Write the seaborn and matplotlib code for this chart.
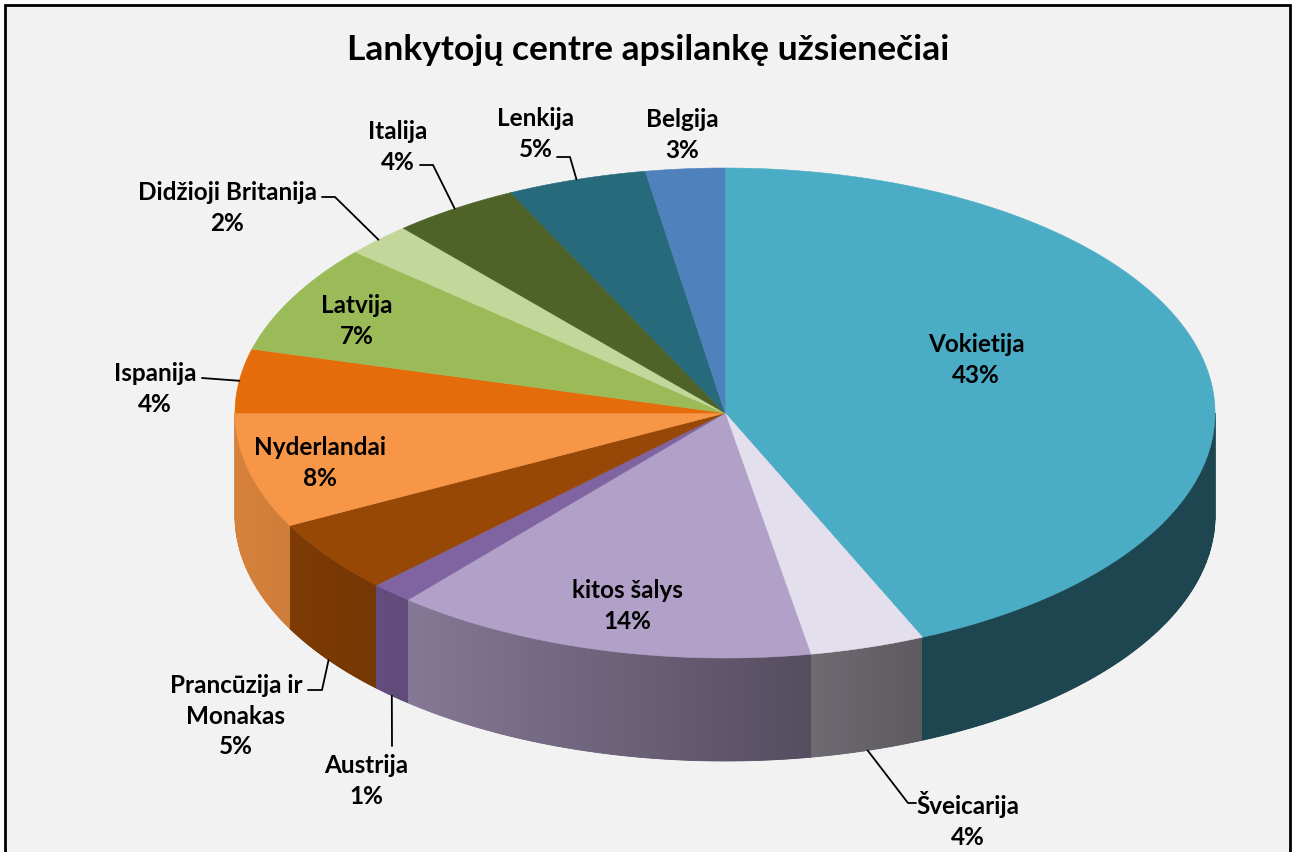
import numpy as np
import matplotlib
matplotlib.use('Agg')
import matplotlib.pyplot as plt
from matplotlib.patches import Polygon, Rectangle
from matplotlib.colors import to_rgb
import seaborn as sns

# ==========================================
# Data (clockwise from 12 o'clock), shares in %
# ==========================================
countries = ['Vokietija', 'Šveicarija', 'kitos šalys', 'Austrija',
             'Prancūzija ir\nMonakas', 'Nyderlandai', 'Ispanija', 'Latvija',
             'Didžioji Britanija', 'Italija', 'Lenkija', 'Belgija']
shares = [43.4, 3.8, 14.0, 1.4, 4.8, 7.6, 4.2, 7.2, 2.2, 4.2, 4.6, 2.6]
slice_colors = ['#4BACC6', '#E4DFEC', '#B1A0C7', '#8064A2', '#974706', '#F79646',
                '#E46C0A', '#9BBB59', '#C4D79B', '#4F6228', '#276A7C', '#4F81BD']
title = 'Lankytojų centre apsilankę užsienečiai'

# label layout (pixel coords, y down) and leader elbows
label_xy = [(976, 360), (968, 820), (627, 606), (366, 781), (236, 716), (320, 463),
            (155, 389), (357, 321), (227, 208), (398, 147), (536, 134), (682, 135)]
leaders = {1: [(908, 803), (916, 803)],
           3: [(392, 746)],
           4: [(322, 690), (308, 690)],
           6: [(202, 378)],
           8: [(335, 197), (322, 197)],
           9: [(433, 165), (420, 165)],
           10: [(570, 157), (557, 157)]}

sns.set_theme(style='white')
plt.rcParams['font.family'] = ['Lato', 'DejaVu Sans']

W, H = 1296, 852
fig = plt.figure(figsize=(W / 100, H / 100), dpi=100)
ax = fig.add_axes([0, 0, 1, 1])
ax.set_xlim(0, W)
ax.set_ylim(H, 0)
ax.axis('off')

# chart area frame
ax.add_patch(Rectangle((5, 5), 1285, 900, facecolor='#F2F2F2', edgecolor='black', lw=2))

# pie geometry (tilted disc)
CX, CY, RX, RY, DEPTH = 725, 413, 490, 245, 103

frac = np.array(shares) / sum(shares)
bounds = 90 - 360 * np.concatenate([[0], np.cumsum(frac)])


def rim(a):
    r = np.radians(a)
    return CX + RX * np.cos(r), CY - RY * np.sin(r)


def shade(a):
    u = (1 + np.cos(np.radians(a))) / 2
    return np.maximum(0.41, 0.87 - 0.66 * u)


# side walls (front half only: -180..0 deg) - strips give smooth outer edges
for i, col in enumerate(slice_colors):
    a0, a1 = bounds[i], bounds[i + 1]
    hi, lo = min(a0, 0), max(a1, -180)
    if hi <= lo:
        continue
    steps = max(2, int((hi - lo) / 1.0) + 1)
    angs = np.linspace(hi, lo, steps)
    base = np.array(to_rgb(col))
    for s, e in zip(angs[:-1], angs[1:]):
        seg = np.linspace(s, e, 3)
        xs, ys = rim(seg)
        pts = list(zip(xs, ys)) + list(zip(xs[::-1], ys[::-1] + DEPTH))
        c = np.clip(base * shade((s + e) / 2), 0, 1)
        ax.add_patch(Polygon(pts, closed=True, facecolor=c, edgecolor=c, lw=0.6))

# seamless gradient over the side band
xcols = np.arange(CX - RX, CX + RX) + 0.5
theta = -np.degrees(np.arccos(np.clip((xcols - CX) / RX, -1, 1)))
idx = np.clip(np.searchsorted(-bounds, -theta, side='right') - 1, 0, len(shares) - 1)
base_rgb = np.array([to_rgb(c) for c in slice_colors])
grad = np.clip(base_rgb[idx] * shade(theta)[:, None], 0, 1)
band_a = np.linspace(0, -180, 361)
bx, by = rim(band_a)
band = list(zip(bx, by)) + list(zip(bx[::-1], by[::-1] + DEPTH))
clip = Polygon(band, closed=True, transform=ax.transData)
im = ax.imshow(grad[None, :, :], extent=(CX - RX, CX + RX, CY + RY + DEPTH + 2, CY - 2),
               aspect='auto', interpolation='nearest', zorder=1.5)
im.set_clip_path(clip)
ax.set_xlim(0, W)
ax.set_ylim(H, 0)

# top faces
for i, col in enumerate(slice_colors):
    a0, a1 = bounds[i], bounds[i + 1]
    seg = np.linspace(a0, a1, max(3, int(abs(a0 - a1) * 2)))
    xs, ys = rim(seg)
    pts = [(CX, CY)] + list(zip(xs, ys))
    ax.add_patch(Polygon(pts, closed=True, facecolor=col, edgecolor=col, lw=0.4, zorder=2))

# labels and leader lines
for i, (name, v) in enumerate(zip(countries, shares)):
    x, y = label_xy[i]
    ax.text(x, y, f'{name}\n{round(v)}%', ha='center', va='center', fontsize=17.5,
            fontweight='bold', color='black', linespacing=1.4, zorder=4)
    if i in leaders:
        mid = (bounds[i] + bounds[i + 1]) / 2
        mx, my = rim(mid)
        if -180 < mid < 0:
            my = my + DEPTH
        path = [(mx, my)] + leaders[i]
        ax.plot([p[0] for p in path], [p[1] for p in path], color='black', lw=1.3, zorder=3)

ax.text(648, 50, title, ha='center', va='center', fontsize=25.5, fontweight='bold',
        color='black', zorder=4)

fig.savefig('out.png', dpi=100, facecolor='white')
